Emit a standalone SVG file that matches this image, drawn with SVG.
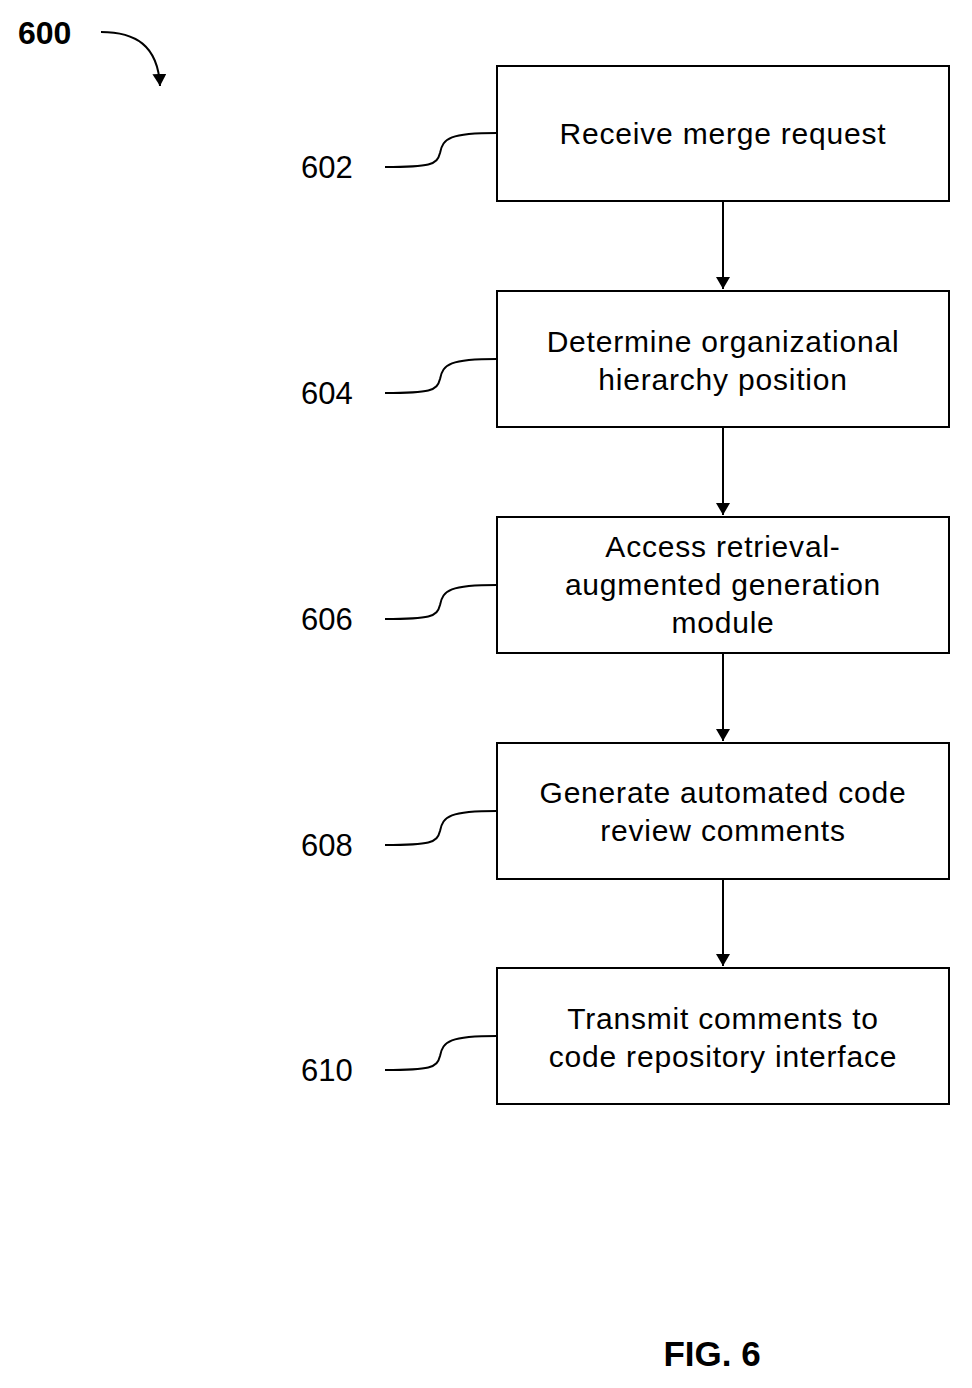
<svg xmlns="http://www.w3.org/2000/svg" width="972" height="1388" viewBox="0 0 972 1388">
<style>
.box{fill:#fff;stroke:#000;stroke-width:2}
.t{font-family:"Liberation Sans",Arial,sans-serif;font-size:30px;letter-spacing:0.8px;text-anchor:middle;fill:#000}
.ref{font-family:"Liberation Sans",Arial,sans-serif;font-size:31px;fill:#000}
.ln{fill:none;stroke:#000;stroke-width:2}
</style>
<defs>
<marker id="d" viewBox="0 0 12 14" markerWidth="12" markerHeight="14" refX="12" refY="7" orient="auto" markerUnits="userSpaceOnUse"><path d="M0,0 L12,7 L0,14 Z" fill="#000"/></marker></defs>
<text x="18" y="44" style="font-family:'Liberation Sans',Arial,sans-serif;font-size:32px;font-weight:bold">600</text>
<text x="712" y="1366" style="font-family:'Liberation Sans',Arial,sans-serif;font-size:35px;font-weight:bold;text-anchor:middle">FIG. 6</text>
<g id="connectors">
<path class="ln" d="M101,32 C135,32 158,45 160,86" marker-end="url(#d)"/>
<path class="ln" d="M723,201 V289" marker-end="url(#d)"/>
<path class="ln" d="M723,427 V515" marker-end="url(#d)"/>
<path class="ln" d="M723,653 V741" marker-end="url(#d)"/>
<path class="ln" d="M723,879 V966" marker-end="url(#d)"/>
<path class="ln" d="M385,167 C430,167 437,165 440,153 C443,138 450,133 497,133"/>
<path class="ln" d="M385,393 C430,393 437,391 440,379 C443,364 450,359 497,359"/>
<path class="ln" d="M385,619 C430,619 437,617 440,605 C443,590 450,585 497,585"/>
<path class="ln" d="M385,845 C430,845 437,843 440,831 C443,816 450,811 497,811"/>
<path class="ln" d="M385,1070 C430,1070 437,1068 440,1056 C443,1041 450,1036 497,1036"/>
</g>
<g id="n602"><rect class="box" x="497" y="66" width="452" height="135"/><text class="t" x="723" y="144">Receive merge request</text><text class="ref" x="301" y="178">602</text></g>
<g id="n604"><rect class="box" x="497" y="291" width="452" height="136"/><text class="t" x="723" y="352">Determine organizational</text><text class="t" x="723" y="390">hierarchy position</text><text class="ref" x="301" y="404">604</text></g>
<g id="n606"><rect class="box" x="497" y="517" width="452" height="136"/><text class="t" x="723" y="557">Access retrieval-</text><text class="t" x="723" y="595">augmented generation</text><text class="t" x="723" y="633">module</text><text class="ref" x="301" y="630">606</text></g>
<g id="n608"><rect class="box" x="497" y="743" width="452" height="136"/><text class="t" x="723" y="803">Generate automated code</text><text class="t" x="723" y="841">review comments</text><text class="ref" x="301" y="856">608</text></g>
<g id="n610"><rect class="box" x="497" y="968" width="452" height="136"/><text class="t" x="723" y="1029">Transmit comments to</text><text class="t" x="723" y="1067">code repository interface</text><text class="ref" x="301" y="1081">610</text></g>
</svg>
